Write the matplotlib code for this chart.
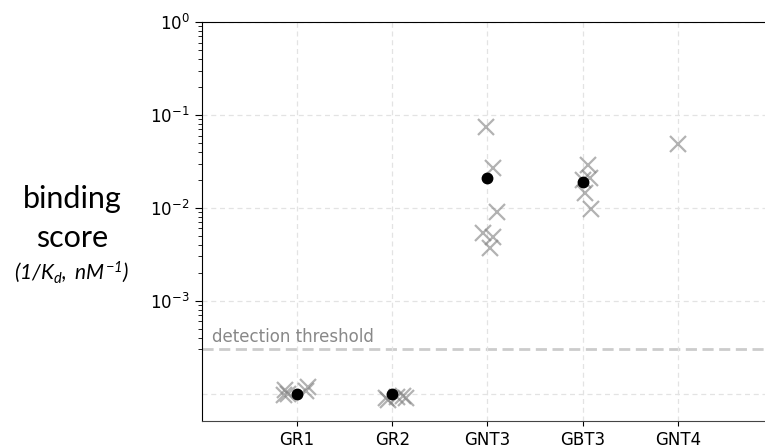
import matplotlib
matplotlib.use("Agg")
import matplotlib.pyplot as plt
import numpy as np

plt.rcParams['mathtext.it'] = 'Lato:italic'
plt.rcParams['mathtext.rm'] = 'Lato:italic'

categories = ["GR1", "GR2", "GNT3", "GBT3", "GNT4"]

# per-category measurements (binding score, 1/Kd in nM^-1) and horizontal jitter
values = [
    [1.10e-4, 0.97e-4, 1.00e-4, 1.17e-4, 1.07e-4],
    [0.90e-4, 0.85e-4, 0.92e-4, 0.95e-4, 0.90e-4],
    [0.0743, 0.0269, 0.00906, 0.00538, 0.00488, 0.00372],
    [0.029, 0.021, 0.020, 0.0145, 0.00976],
    [0.0488],
]
jitter = [
    [-0.12, -0.14, -0.09, 0.12, 0.10],
    [-0.07, -0.04, 0.05, 0.11, 0.14],
    [-0.02, 0.06, 0.10, -0.05, 0.06, 0.03],
    [0.05, 0.08, 0.00, 0.02, 0.09],
    [0.00],
]
# summary dots (below-threshold groups are shown at 1e-4)
summary = [1e-4, 1e-4, np.mean(values[2]), np.mean(values[3]), None]

threshold = 3e-4
yticks = [1e-4, 1e-3, 1e-2, 1e-1, 1]
yticklabels = ["", r"$10^{-3}$", r"$10^{-2}$", r"$10^{-1}$", r"$10^{0}$"]

fig = plt.figure(figsize=(7.65, 4.48), dpi=100)
ax = fig.add_axes([0.2635, 0.0603, 1.011 - 0.2635, 0.951 - 0.0603])

for i, (vals, jit) in enumerate(zip(values, jitter)):
    ax.plot(np.array(jit) + i, vals, linestyle='none', marker='x', markersize=11,
            markeredgewidth=1.6, color='grey', alpha=0.6, zorder=3)
    if summary[i] is not None:
        ax.plot([i], [summary[i]], linestyle='none', marker='o', markersize=7.5,
                color='black', zorder=4)

ax.axhline(threshold, color='#cccccc', linewidth=2, linestyle=(0, (4, 2)), zorder=2)
ax.text(-0.89, threshold * 1.1, "detection threshold", color='#888888', fontsize=12,
        ha='left', va='bottom')

ax.set_yscale('log')
ax.set_ylim(5.1e-5, 1)
ax.set_xlim(-1, 5)
ax.set_yticks(yticks)
ax.set_yticklabels(yticklabels)
minor = [m * 10.0**e for e in range(-4, 0) for m in range(2, 10) if m * 10.0**e > 2.5e-4]
ax.set_yticks(minor, minor=True)
ax.yaxis.set_minor_formatter(matplotlib.ticker.NullFormatter())
ax.set_xticks(range(len(categories)))
ax.set_xticklabels(categories)
ax.tick_params(axis='both', labelsize=12)
ax.tick_params(axis='y', which='major', length=5)
ax.tick_params(axis='y', which='minor', length=3)
ax.yaxis.get_major_ticks()[0].tick1line.set_visible(False)

ax.grid(True, which='major', linestyle=(0, (4, 3)), color='#e3e3e3', linewidth=0.9)
ax.set_axisbelow(False)
for s in ax.spines.values():
    s.set_zorder(6)
ax.spines['right'].set_visible(False)
ax.spines['bottom'].set_color('#444444')

fig.text(0.094, 0.556, "binding", fontsize=22, family='Lato', ha='center', va='center')
fig.text(0.094, 0.469, "score", fontsize=22, family='Lato', ha='center', va='center')
fig.text(0.094, 0.393, r"$\mathit{(1/K_d,\ nM^{-1})}$", fontsize=15, ha='center',
         va='center', math_fontfamily='custom')

fig.savefig("out.png", dpi=100)
